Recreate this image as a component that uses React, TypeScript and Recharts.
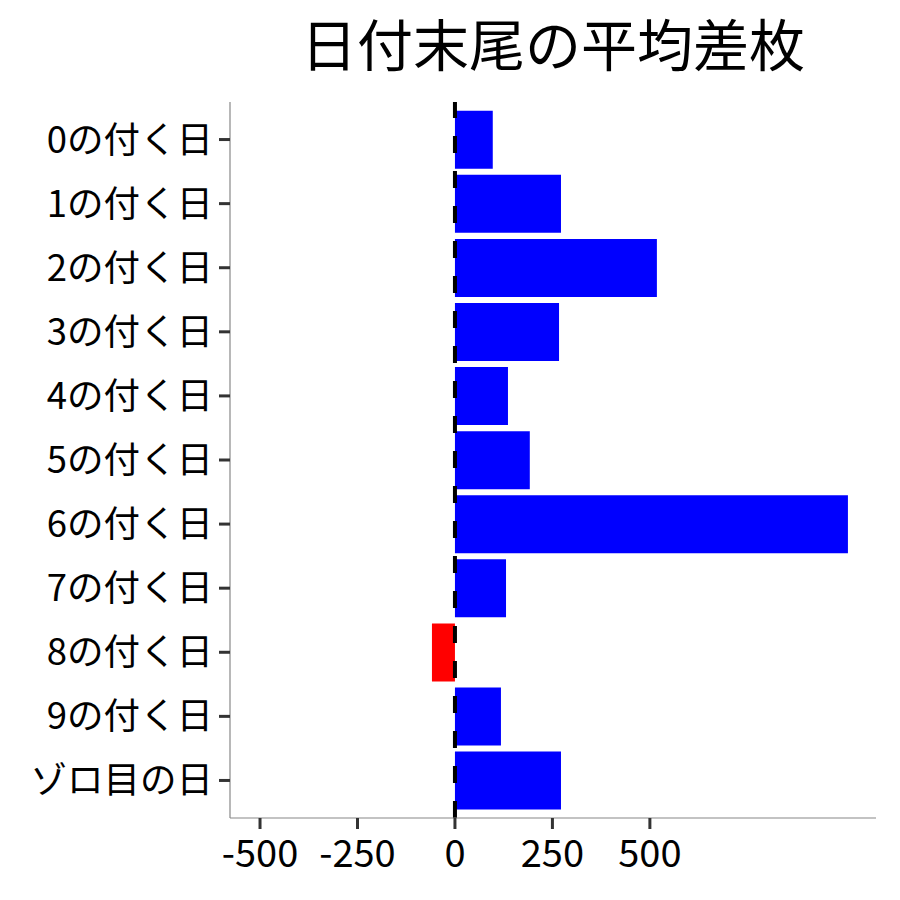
import { Bar, BarChart, Cell, ReferenceLine, XAxis, YAxis } from "recharts";

const days = [
  "0の付く日",
  "1の付く日",
  "2の付く日",
  "3の付く日",
  "4の付く日",
  "5の付く日",
  "6の付く日",
  "7の付く日",
  "8の付く日",
  "9の付く日",
  "ゾロ目の日",
];
const avgDiff = [97, 272, 518, 267, 136, 192, 1008, 131, -59, 118, 272];
const xTicks = [-500, -250, 0, 250, 500];

const data = days.map((day, i) => ({ day, value: avgDiff[i] }));

const font = "'Noto Sans CJK JP', 'Noto Sans', sans-serif";

export default function App() {
  return (
    <div style={{ position: "absolute", left: 0, top: 0, width: 900, height: 900, background: "#fff" }}>
      <div
        style={{
          position: "absolute",
          left: 230,
          width: 646,
          top: 14,
          textAlign: "center",
          fontFamily: font,
          fontSize: 56,
          lineHeight: 1,
          color: "#000",
        }}
      >
        日付末尾の平均差枚
      </div>
      <BarChart
        width={900}
        height={900}
        data={data}
        layout="vertical"
        margin={{ top: 102, right: 24, bottom: 0, left: 0 }}
        barCategoryGap="5%"
      >
        <XAxis
          type="number"
          domain={[-577, 1080]}
          ticks={xTicks}
          allowDataOverflow
          height={82}
          axisLine={{ stroke: "#888", strokeWidth: 1.2 }}
          tickLine={{ stroke: "#333", strokeWidth: 3 }}
          tickSize={11}
          tickMargin={11}
          tick={{ fill: "#000", fontSize: 38, fontFamily: font }}
        />
        <YAxis
          type="category"
          dataKey="day"
          width={230}
          padding={{ top: 5.5, bottom: 5.5 }}
          axisLine={{ stroke: "#888", strokeWidth: 1.2 }}
          tickLine={{ stroke: "#333", strokeWidth: 3 }}
          tickSize={11}
          tickMargin={6}
          interval={0}
          tick={{ fill: "#000", fontSize: 36.5, fontFamily: font }}
        />
        <Bar dataKey="value" isAnimationActive={false}>
          {data.map((d) => (
            <Cell key={d.day} fill={d.value < 0 ? "#FF0000" : "#0000FF"} />
          ))}
        </Bar>
        <ReferenceLine x={0} stroke="#000" strokeWidth={4} strokeDasharray="17 18" />
      </BarChart>
    </div>
  );
}
